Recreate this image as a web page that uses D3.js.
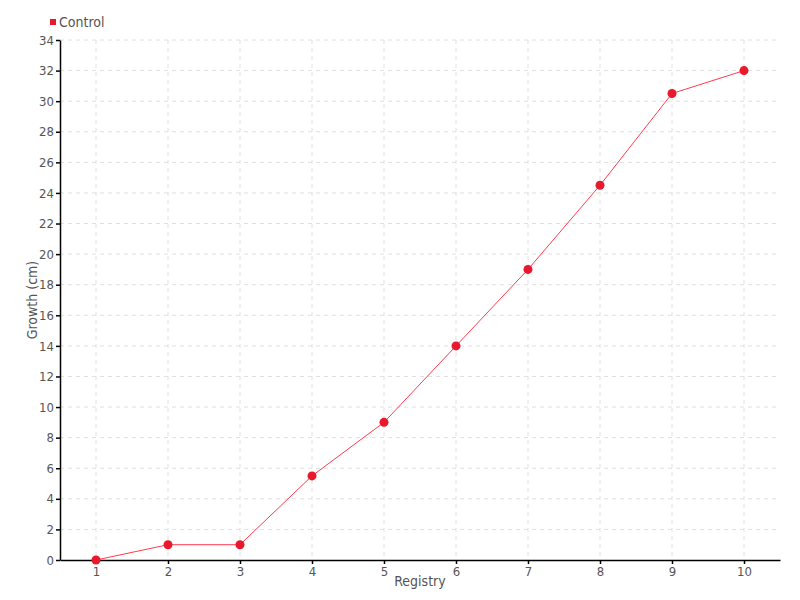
<!DOCTYPE html>
<html>
<head>
<meta charset="utf-8">
<script src="https://cdn.jsdelivr.net/npm/d3@7"></script>
<style>
  body { margin: 0; background: #fff; }
  text { font-family: "DejaVu Sans Condensed", "Liberation Sans Narrow", sans-serif; fill: #555; }
  .grid line { stroke: #e0e0e0; stroke-dasharray: 4,4; }
</style>
</head>
<body>
<svg width="800" height="600"></svg>
<script>
// chart data
var registry = [1, 2, 3, 4, 5, 6, 7, 8, 9, 10];
var growth = [0, 1, 1, 5.5, 9, 14, 19, 24.5, 30.5, 32];
var yTicks = d3.range(0, 35, 2);
var seriesName = "Control";

var margin = {top: 40, right: 20, bottom: 40, left: 60},
    width = 800 - margin.left - margin.right,
    height = 600 - margin.top - margin.bottom;

var svg = d3.select("svg");
var g = svg.append("g").attr("transform", "translate(" + margin.left + "," + margin.top + ")");

var x = d3.scalePoint().domain(registry).range([0, width]).padding(0.5);
var y = d3.scaleLinear().domain([0, 34]).range([height, 0]);

// grid lines
g.append("g").attr("class", "grid")
    .selectAll("line.h").data(yTicks.slice(1)).enter().append("line")
    .attr("x1", 0).attr("x2", width)
    .attr("y1", function (d) { return y(d); }).attr("y2", function (d) { return y(d); });
g.append("g").attr("class", "grid")
    .selectAll("line.v").data(registry).enter().append("line")
    .attr("y1", 0).attr("y2", height)
    .attr("x1", function (d) { return x(d); }).attr("x2", function (d) { return x(d); });

// axes
var xAxis = g.append("g").attr("transform", "translate(0," + height + ")")
    .call(d3.axisBottom(x).tickSize(4).tickSizeOuter(0));
var yAxis = g.append("g")
    .call(d3.axisLeft(y).tickValues(yTicks).tickSize(4).tickSizeOuter(0));

[xAxis, yAxis].forEach(function (a) {
    a.select(".domain").attr("stroke", "#000").attr("stroke-width", 1.5);
    a.selectAll(".tick line").attr("stroke", "#000").attr("stroke-width", 1.5);
    a.selectAll("text").attr("font-size", 13).attr("fill", "#555")
        .attr("font-family", "DejaVu Sans Condensed, sans-serif");
});
yAxis.selectAll("text").attr("x", -6);

// line
var line = d3.line()
    .x(function (d, i) { return x(registry[i]); })
    .y(function (d) { return y(d); });

g.append("path").datum(growth)
    .attr("fill", "none")
    .attr("stroke", "#ff3b4e")
    .attr("stroke-width", 1)
    .attr("d", line);

g.selectAll("circle").data(growth).enter().append("circle")
    .attr("cx", function (d, i) { return x(registry[i]); })
    .attr("cy", function (d) { return y(d); })
    .attr("r", 4.5)
    .attr("fill", "#e8192c");

// axis labels
svg.append("text")
    .attr("x", margin.left + width / 2).attr("y", 586)
    .attr("text-anchor", "middle").attr("font-size", 14)
    .text("Registry");
svg.append("text")
    .attr("transform", "translate(37," + (margin.top + height / 2) + ") rotate(-90)")
    .attr("text-anchor", "middle").attr("font-size", 14)
    .text("Growth (cm)");

// legend
svg.append("rect").attr("x", 50).attr("y", 19).attr("width", 6).attr("height", 6).attr("fill", "#e8192c");
svg.append("text").attr("x", 59).attr("y", 27).attr("font-size", 14).text(seriesName);
</script>
</body>
</html>
